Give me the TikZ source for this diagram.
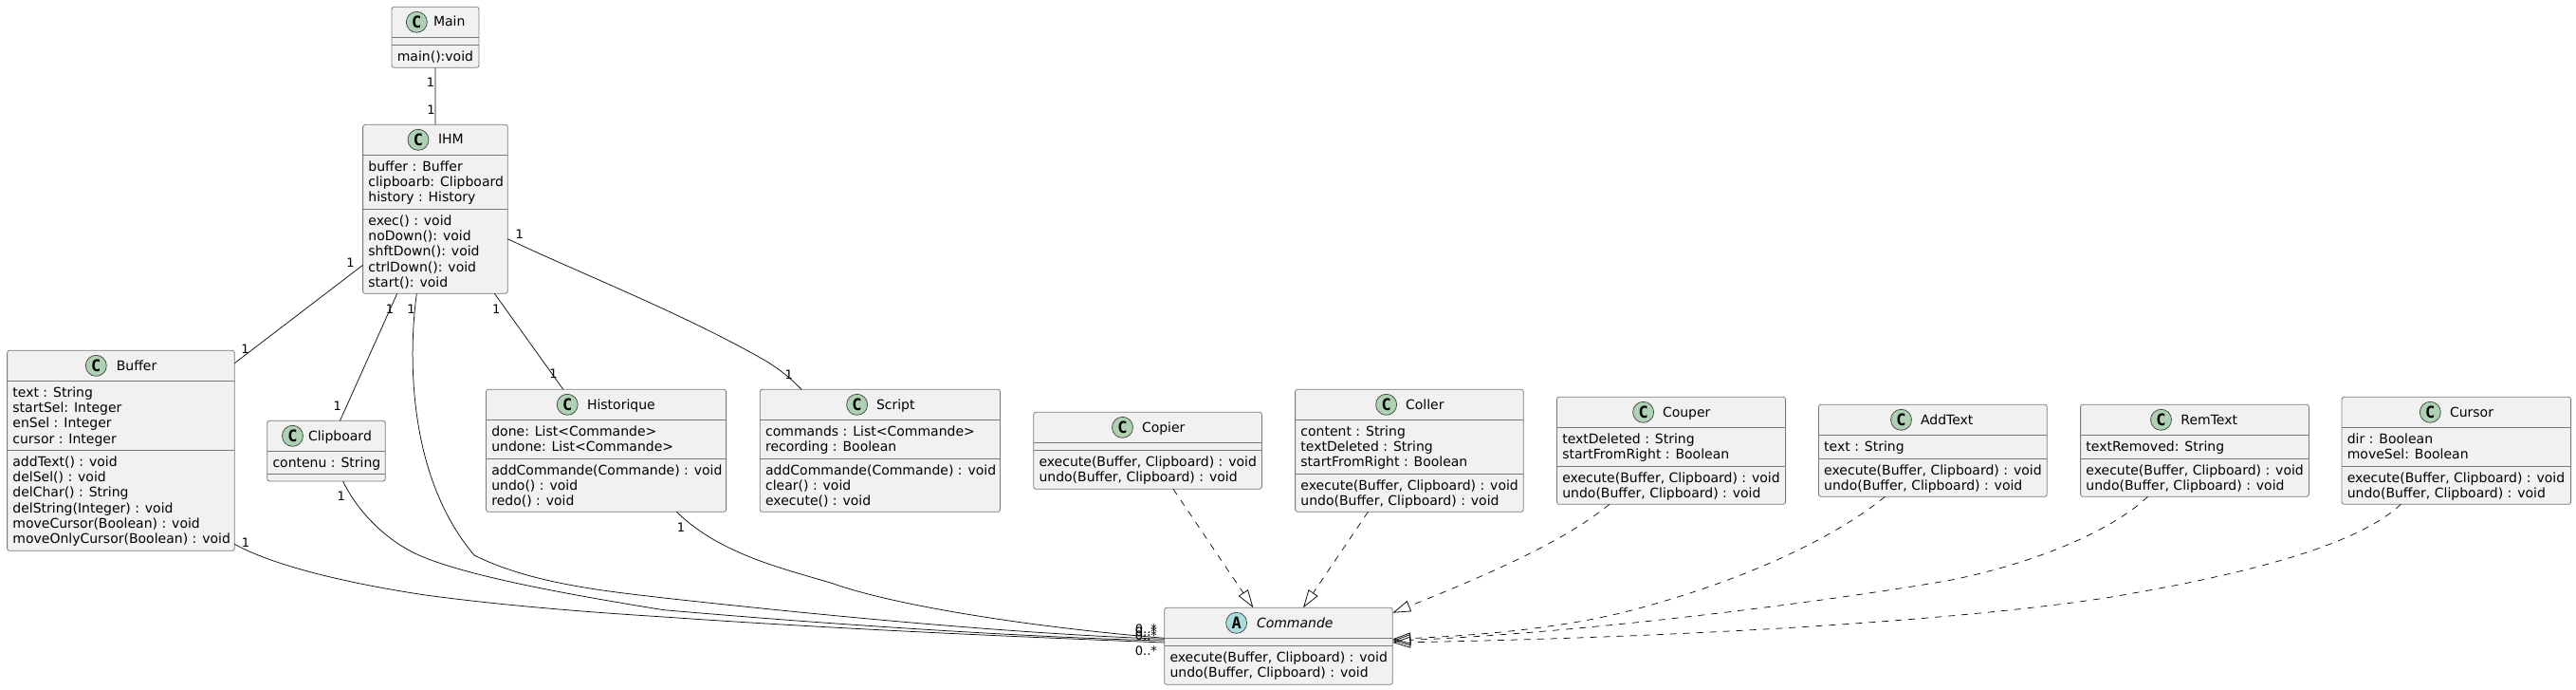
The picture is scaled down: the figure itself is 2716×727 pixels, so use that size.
\documentclass[tikz,border=0pt]{standalone}
\usepackage{fontspec}
\setmainfont{DejaVu Sans}
\newfontfamily\spotfont{DejaVu Sans Mono}
\usetikzlibrary{arrows.meta,calc}
\definecolor{boxfill}{HTML}{F1F1F1}
\definecolor{boxline}{HTML}{7A7A7A}
\definecolor{ink}{HTML}{101010}
\definecolor{spotc}{HTML}{ADD1B2}
\definecolor{spota}{HTML}{A9DCDF}
\tikzset{
  classbox/.style={draw=boxline,fill=boxfill,line width=0.8pt,rounded corners=2.5pt,inner sep=0pt,outer sep=0pt,anchor=north west},
  sepline/.style={draw=boxline,line width=0.8pt},
  memb/.style={inner sep=0pt,outer sep=0pt,anchor=base west,font=\fontsize{14}{16}\selectfont,text=black},
  clsname/.style={memb},
  spot/.style={circle,draw=ink!80,line width=0.7pt,minimum size=22pt,inner sep=0pt,outer sep=0pt,font=\spotfont\bfseries\fontsize{17}{17}\selectfont,text=black},
  mult/.style={inner sep=0pt,outer sep=0pt,font=\fontsize{13}{13}\selectfont,text=black},
  multb/.style={mult,anchor=base west},
  assoc/.style={draw=ink,line width=0.75pt},
  real/.style={draw=ink,line width=0.75pt,dash pattern=on 7pt off 7pt,-{Triangle[open,length=19pt,width=12pt,line width=0.8pt]}}
}
\newcommand{\umlbox}[5]{\node[classbox,minimum width={(#3-#2)*1pt},minimum height={(#5-#4)*1pt}] (#1) at (#2,#4) {};}
\newcommand{\umlsep}[2]{\draw[sepline] (#1.north west |- 0,#2) -- (#1.north east |- 0,#2);}
\newcommand{\umlhead}[7]{%
  \node[spot,fill=#6] (#1spot) at (#3,{#2+16}) {#5};
  \node[clsname] (#1name) at (#4,{#2+20.7}) {#7};}
\newcommand{\umlmem}[5]{\node[memb] (#1#2) at ({#3+5.8},{#4+17+#2*16.3}) {#5};}
\begin{document}
\begin{tikzpicture}[x=1pt,y=-1pt]
\useasboundingbox (0,0) rectangle (2716,727);
\fill[white] (0,0) rectangle (2716,727);

\umlbox{Main}{413}{505}{7.3}{71.3}
\umlhead{Main}{7.3}{439.3}{457}{C}{spotc}{Main}
\umlsep{Main}{39.3}\umlsep{Main}{47.3}
\umlmem{Mainm}{0}{413}{47.3}{main():void}

\umlbox{IHM}{382.6}{535.3}{131.3}{309.3}
\umlhead{IHM}{131.3}{441}{462}{C}{spotc}{IHM}
\umlsep{IHM}{163.3}\umlsep{IHM}{220.3}
\umlmem{IHMa}{0}{382.6}{163.3}{buffer : Buffer}
\umlmem{IHMa}{1}{382.6}{163.3}{clipboarb: Clipboard}
\umlmem{IHMa}{2}{382.6}{163.3}{history : History}
\umlmem{IHMm}{0}{382.6}{220.3}{exec() : void}
\umlmem{IHMm}{1}{382.6}{220.3}{noDown(): void}
\umlmem{IHMm}{2}{382.6}{220.3}{shftDown(): void}
\umlmem{IHMm}{3}{382.6}{220.3}{ctrlDown(): void}
\umlmem{IHMm}{4}{382.6}{220.3}{start(): void}

\umlbox{Buffer}{7.6}{247.3}{369.3}{580.3}
\umlhead{Buffer}{369.3}{101.3}{122.8}{C}{spotc}{Buffer}
\umlsep{Buffer}{401.3}\umlsep{Buffer}{474.3}
\umlmem{Buffera}{0}{7.6}{401.3}{text : String}
\umlmem{Buffera}{1}{7.6}{401.3}{startSel: Integer}
\umlmem{Buffera}{2}{7.6}{401.3}{enSel : Integer}
\umlmem{Buffera}{3}{7.6}{401.3}{cursor : Integer}
\umlmem{Bufferm}{0}{7.6}{474.3}{addText() : void}
\umlmem{Bufferm}{1}{7.6}{474.3}{delSel() : void}
\umlmem{Bufferm}{2}{7.6}{474.3}{delChar() : String}
\umlmem{Bufferm}{3}{7.6}{474.3}{delString(Integer) : void}
\umlmem{Bufferm}{4}{7.6}{474.3}{moveCursor(Boolean) : void}
\umlmem{Bufferm}{5}{7.6}{474.3}{moveOnlyCursor(Boolean) : void}

\umlbox{Clipboard}{281.7}{406.3}{443.3}{507}
\umlhead{Clipboard}{443.3}{308.5}{325}{C}{spotc}{Clipboard}
\umlsep{Clipboard}{475.3}\umlsep{Clipboard}{499.3}
\umlmem{Clipboarda}{0}{281.7}{475.3}{contenu : String}

\umlbox{Historique}{512.5}{765.6}{410.3}{539.3}
\umlhead{Historique}{410.3}{598.2}{619}{C}{spotc}{Historique}
\umlsep{Historique}{442.3}\umlsep{Historique}{483.3}
\umlmem{Historiquea}{0}{512.5}{442.3}{done: List<Commande>}
\umlmem{Historiquea}{1}{512.5}{442.3}{undone: List<Commande>}
\umlmem{Historiquem}{0}{512.5}{483.3}{addCommande(Commande) : void}
\umlmem{Historiquem}{1}{512.5}{483.3}{undo() : void}
\umlmem{Historiquem}{2}{512.5}{483.3}{redo() : void}

\umlbox{Script}{801.3}{1054.5}{410.3}{539.3}
\umlhead{Script}{410.3}{903.6}{924}{C}{spotc}{Script}
\umlsep{Script}{442.3}\umlsep{Script}{483.3}
\umlmem{Scripta}{0}{801.3}{442.3}{commands : List<Commande>}
\umlmem{Scripta}{1}{801.3}{442.3}{recording : Boolean}
\umlmem{Scriptm}{0}{801.3}{483.3}{addCommande(Commande) : void}
\umlmem{Scriptm}{1}{801.3}{483.3}{clear() : void}
\umlmem{Scriptm}{2}{801.3}{483.3}{execute() : void}

\umlbox{Copier}{1089.7}{1330.4}{434.3}{515.3}
\umlhead{Copier}{434.3}{1183.5}{1204}{C}{spotc}{Copier}
\umlsep{Copier}{466.3}\umlsep{Copier}{474.3}
\umlmem{Copierm}{0}{1089.7}{474.3}{execute(Buffer, Clipboard) : void}
\umlmem{Copierm}{1}{1089.7}{474.3}{undo(Buffer, Clipboard) : void}

\umlbox{Coller}{1365.6}{1606.3}{410.3}{539.3}
\umlhead{Coller}{410.3}{1461.6}{1482}{C}{spotc}{Coller}
\umlsep{Coller}{442.3}\umlsep{Coller}{499.3}
\umlmem{Collera}{0}{1365.6}{442.3}{content : String}
\umlmem{Collera}{1}{1365.6}{442.3}{textDeleted : String}
\umlmem{Collera}{2}{1365.6}{442.3}{startFromRight : Boolean}
\umlmem{Collerm}{0}{1365.6}{499.3}{execute(Buffer, Clipboard) : void}
\umlmem{Collerm}{1}{1365.6}{499.3}{undo(Buffer, Clipboard) : void}

\umlbox{Couper}{1641.5}{1882.6}{418.3}{531.3}
\umlhead{Couper}{418.3}{1732.6}{1753}{C}{spotc}{Couper}
\umlsep{Couper}{450.3}\umlsep{Couper}{491.3}
\umlmem{Coupera}{0}{1641.5}{450.3}{textDeleted : String}
\umlmem{Coupera}{1}{1641.5}{450.3}{startFromRight : Boolean}
\umlmem{Couperm}{0}{1641.5}{491.3}{execute(Buffer, Clipboard) : void}
\umlmem{Couperm}{1}{1641.5}{491.3}{undo(Buffer, Clipboard) : void}

\umlbox{AddText}{1917.4}{2158.3}{426.3}{523.3}
\umlhead{AddText}{426.3}{2004.5}{2025}{C}{spotc}{AddText}
\umlsep{AddText}{458.3}\umlsep{AddText}{483.3}
\umlmem{AddTexta}{0}{1917.4}{458.3}{text : String}
\umlmem{AddTextm}{0}{1917.4}{483.3}{execute(Buffer, Clipboard) : void}
\umlmem{AddTextm}{1}{1917.4}{483.3}{undo(Buffer, Clipboard) : void}

\umlbox{RemText}{2193.6}{2434.4}{426.3}{523.3}
\umlhead{RemText}{426.3}{2278.5}{2299.4}{C}{spotc}{RemText}
\umlsep{RemText}{458.3}\umlsep{RemText}{483.3}
\umlmem{RemTexta}{0}{2193.6}{458.3}{textRemoved: String}
\umlmem{RemTextm}{0}{2193.6}{483.3}{execute(Buffer, Clipboard) : void}
\umlmem{RemTextm}{1}{2193.6}{483.3}{undo(Buffer, Clipboard) : void}

\umlbox{Cursor}{2469}{2710.6}{418.3}{531.3}
\umlhead{Cursor}{418.3}{2562.3}{2583}{C}{spotc}{Cursor}
\umlsep{Cursor}{450.3}\umlsep{Cursor}{491.3}
\umlmem{Cursora}{0}{2469}{450.3}{dir : Boolean}
\umlmem{Cursora}{1}{2469}{450.3}{moveSel: Boolean}
\umlmem{Cursorm}{0}{2469}{491.3}{execute(Buffer, Clipboard) : void}
\umlmem{Cursorm}{1}{2469}{491.3}{undo(Buffer, Clipboard) : void}

\umlbox{Commande}{1227.7}{1468.3}{640.3}{721.3}
\umlhead{Commande}{640.3}{1303.6}{1325}{A}{spota}{\itshape Commande}
\umlsep{Commande}{672.3}\umlsep{Commande}{680.3}
\umlmem{Commandem}{0}{1227.7}{680.3}{execute(Buffer, Clipboard) : void}
\umlmem{Commandem}{1}{1227.7}{680.3}{undo(Buffer, Clipboard) : void}

% associations
\draw[assoc] (Main.south) -- (IHM.north);
\draw[assoc] ($(IHM.north west)+(0,148)$) -- ($(Buffer.north east)+(0,13.4)$);
\draw[assoc] ($(IHM.south west)+(36.1,0)$) -- ($(Clipboard.north west)+(76.8,0)$);
\draw[assoc] ($(IHM.south west)+(138.8,0)$) -- ($(Historique.north west)+(81.3,0)$);
\draw[assoc] ($(IHM.north east)+(0,120.4)$) .. controls (600,283) and (720,330) .. (807,380) .. controls (822,389) and (833,398) .. ($(Script.north west)+(43.7,0)$);
\draw[assoc] ($(IHM.south west)+(56.7,0)$) .. controls (431,370) and (428,500) .. (500,585) .. controls (560,615) and (640,623) .. (700,630) .. controls (900,652) and (1080,668) .. ($(Commande.north west)+(0,33)$);
\draw[assoc] ($(Clipboard.south west)+(79.9,0)$) .. controls (375,535) and (400,562) .. (428.6,578.3) .. controls (470,603) and (590,625) .. (700,642.7) .. controls (900,660) and (1100,672) .. ($(Commande.north west)+(0,34.7)$);
\draw[assoc] ($(Buffer.north east)+(0,204)$) .. controls (290,597) and (370,615) .. (446.4,626.7) .. controls (530,638) and (620,645) .. (700,650) .. controls (900,664) and (1100,672) .. ($(Commande.north west)+(0,36.7)$);
\draw[assoc] ($(Historique.south west)+(200.9,0)$) .. controls (760,585) and (830,600) .. (878.6,615) .. controls (950,640) and (1100,662) .. ($(Commande.north west)+(0,32)$);

% realisations
\draw[real] ($(Copier.south west)+(147.3,0)$) -- ($(Commande.north west)+(93.7,0)$);
\draw[real] ($(Coller.south west)+(76.8,0)$) -- ($(Commande.north west)+(146.3,0)$);
\draw[real] ($(Couper.south west)+(55.4,0)$) .. controls (1650,570) and (1570,605) .. ($(Commande.north east)+(0,5.4)$);
\draw[real] ($(AddText.south west)+(70.1,0)$) .. controls (1930,570) and (1830,615) .. (1712.5,645) .. controls (1640,663) and (1550,670) .. ($(Commande.north east)+(0,33)$);
\draw[real] ($(RemText.south west)+(70.9,0)$) .. controls (2220,565) and (2130,597) .. (2054,611.7) .. controls (1900,638) and (1650,668) .. ($(Commande.north east)+(0,34.7)$);
\draw[real] ($(Cursor.south west)+(62.3,0)$) .. controls (2480,580) and (2340,610) .. (2220,630) .. controls (2050,656) and (1750,672) .. ($(Commande.north east)+(0,36.7)$);

% multiplicities
\node[mult] (m1) at (454,86.7) {1};
\node[mult] (m2) at (454.4,115.7) {1};
\node[mult] (m3) at (369.6,277) {1};
\node[mult] (m4) at (258.5,368) {1};
\node[mult] (m5) at (411,325.7) {1};
\node[mult] (m6) at (355.8,428) {1};
\node[mult] (m7) at (433.5,325.7) {1};
\node[mult] (m8) at (523.2,325.7) {1};
\node[mult] (m9) at (583.5,394) {1};
\node[mult] (m10) at (547.8,246.7) {1};
\node[mult] (m11) at (831.7,395) {1};
\node[mult] (m12) at (359.8,522.7) {1};
\node[mult] (m13) at (259,571.3) {1};
\node[mult] (m14) at (717.9,555.7) {1};
\node[multb] (c1) at (1196.9,667) {0..*};
\node[multb] (c2) at (1196.9,670) {0..*};
\node[multb] (c3) at (1196.9,674) {0..*};
\node[multb] (c4) at (1196.9,690) {0..*};
\end{tikzpicture}
\end{document}
